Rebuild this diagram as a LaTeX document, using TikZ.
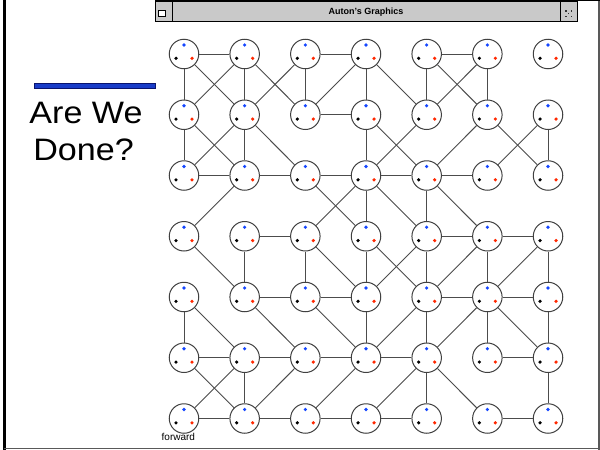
\documentclass[tikz,border=0pt]{standalone}
\usepackage{fontspec}
\usepackage{graphicx}
\setmainfont{Liberation Sans}
\definecolor{dotblue}{RGB}{20,70,255}
\definecolor{dotred}{RGB}{255,40,0}
\definecolor{barblue}{RGB}{25,60,200}
\definecolor{barnavy}{RGB}{10,20,110}
\begin{document}
\begin{tikzpicture}[x=1pt,y=-1pt,
  gnode/.style={circle,draw=gray!50!black,line width=1pt,fill=white,minimum size=29.5pt,inner sep=0pt},
  edge/.style={draw=gray!60!black,line width=0.9pt},
  bigtext/.style={anchor=base,inner sep=0pt,font=\fontsize{31}{36}\selectfont}]
\useasboundingbox (0,0) rectangle (600,450);
\fill[white] (0,0) rectangle (600,450);
% slide frame
\draw[black,line width=2.5pt] (4.5,0) -- (4.5,450);
\draw[gray!70!black,line width=1.5pt] (4,448.5) -- (600,448.5);
\draw[gray!70!black,line width=1.2pt] (599,0) -- (599,450);
\draw[black,line width=1.2pt] (155,0.6) -- (600,0.6);
% title bar
\draw[fill=gray!42,line width=1pt] (155,1.5) rectangle (577,21);
\draw[line width=0.8pt] (172,1.5) -- (172,21);
\draw[line width=0.8pt] (560,1.5) -- (560,21);
\draw[fill=white,line width=0.8pt] (158.5,10) rectangle (165.5,16);
\draw[line width=1.6pt] (158.5,10.6) -- (165.5,10.6);
\foreach \px/\py in {565/10,570.5/10,567.75/12.75,565/15.5,570.5/15.5}
  \fill[black!80] (\px,\py) rectangle +(1.5,1.5);
\node[inner sep=0pt] (title) at (366,12) {\bfseries\fontsize{9}{10}\selectfont Auton's Graphics};
% left text
\draw[fill=barblue,draw=barnavy,line width=0.8pt] (34.5,83.5) rectangle (155,88.5);
\node[bigtext] (q1) at (86,123.3) {\scalebox{1.1}[1]{Are We}};
\node[bigtext] (q2) at (83.5,160) {\scalebox{1.1}[1]{Done?}};
% graph nodes
\foreach \c in {0,...,6} {
  \foreach \r in {0,...,6} {
    \node[gnode] (n\c\r) at ({184+60.67*\c},{54+60.75*\r}) {};
    \fill[dotblue] ({184+60.67*\c},{54+60.75*\r-9}) circle (1.8pt);
    \fill[black] ({184+60.67*\c-8},{54+60.75*\r+4.3}) circle (1.8pt);
    \fill[dotred] ({184+60.67*\c+8},{54+60.75*\r+4.3}) circle (1.8pt);
  }
}
% edges
\foreach \a/\b in {00/10,20/30,40/50,21/31,
  02/12,12/22,22/32,32/42,42/52,
  13/23,43/53,53/63,
  14/24,24/34,44/54,54/64,
  05/15,15/25,25/35,35/45,55/65,
  06/16,16/26,26/36,36/46,56/66,
  00/01,01/02,04/05,
  10/11,11/12,13/14,15/16,
  20/21,23/24,
  30/31,31/32,32/33,33/34,34/35,
  40/41,42/43,43/44,44/45,45/46,
  50/51,53/54,54/55,
  61/62,63/64,64/65,65/66,
  00/11,10/01,10/21,20/11,30/21,30/41,40/51,50/41,
  01/12,11/02,11/22,31/42,41/32,51/42,51/62,61/52,
  12/03,22/33,32/23,32/43,42/53,
  03/14,23/34,33/44,43/34,53/44,63/54,
  04/15,14/25,24/35,44/35,54/45,54/65,
  05/16,15/06,25/16,35/26,45/36,45/56}
  \draw[edge] (n\a) -- (n\b);
\node[anchor=base west,inner sep=0pt] (fwd) at (161.5,440.5) {\fontsize{10}{12}\selectfont forward};
\end{tikzpicture}
\end{document}
